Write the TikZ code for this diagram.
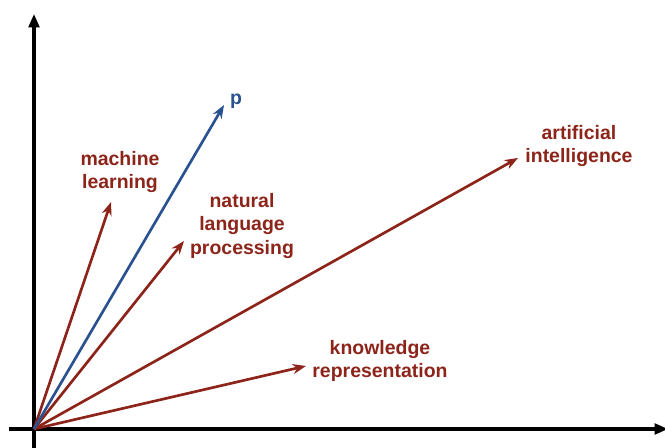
\documentclass[tikz,border=0pt]{standalone}
\usepackage{fontspec}
\setmainfont{Liberation Sans}
\usetikzlibrary{arrows.meta}
\definecolor{vred}{RGB}{140,36,26}
\definecolor{vblue}{RGB}{42,82,145}
\begin{document}
\begin{tikzpicture}[x=0.75pt,y=-0.75pt,
  axis/.style={line width=2.3pt,-{Triangle[length=10pt,width=8pt]}},
  vec/.style={line width=2pt,vred,-{Stealth[length=10pt,width=7.5pt]}},
  pvec/.style={vec,vblue},
  lab/.style={font=\bfseries\fontsize{14.6}{17.6}\selectfont,text=vred,align=center,inner sep=0pt},
  plab/.style={lab,text=vblue}]
\useasboundingbox (0,0) rectangle (665,448);
\coordinate (O) at (34,429);
\coordinate (xs) at (9,429);
\coordinate (xe) at (668,429);
\coordinate (ys) at (34,452);
\coordinate (ye) at (34,14);
\draw[axis] (xs) -- (xe);
\draw[axis] (ys) -- (ye);
\coordinate (p) at (224,105);
\coordinate (ml) at (111,202);
\coordinate (nlp) at (184,241);
\coordinate (ai) at (518,158);
\coordinate (kr) at (306,366);
\draw[vec] (O) -- (ml);
\draw[vec] (O) -- (nlp);
\draw[vec] (O) -- (ai);
\draw[vec] (O) -- (kr);
\draw[pvec] (O) -- (p);
\node[plab] (pl) at (236,101) {p};
\node[lab] (mll) at (120,172) {machine\\learning};
\node[lab] (nlpl) at (242,226) {natural\\language\\processing};
\node[lab] (ail) at (579,146) {artificial\\intelligence};
\node[lab] (krl) at (380,361) {knowledge\\representation};
\end{tikzpicture}
\end{document}
